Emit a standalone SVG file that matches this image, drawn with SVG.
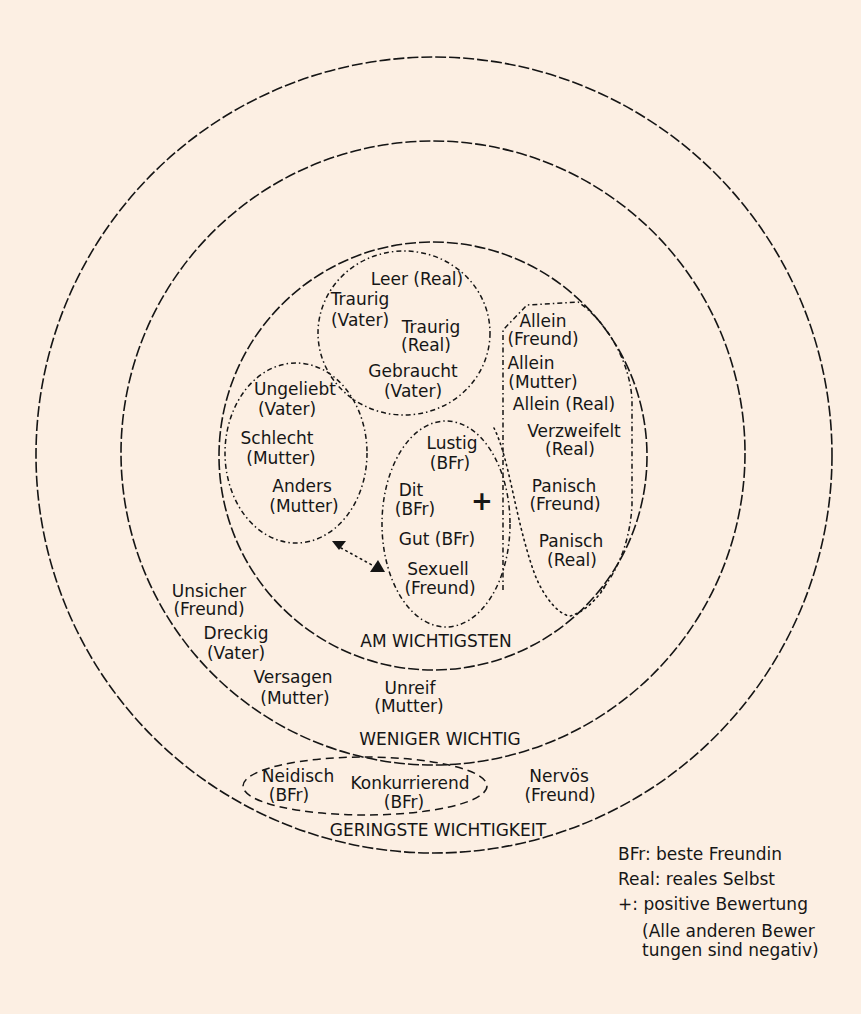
<svg xmlns="http://www.w3.org/2000/svg" width="861" height="1014" viewBox="0 0 861 1014">
<style>
.ring{fill:none;stroke:#151515;stroke-width:1.6;stroke-dasharray:11 3}
.grp{fill:none;stroke:#151515;stroke-width:1.5;stroke-dasharray:5 3 1.5 3}
.dot{fill:none;stroke:#151515;stroke-width:1.6;stroke-dasharray:1.5 4;stroke-linecap:round}
.dash{fill:none;stroke:#151515;stroke-width:1.5;stroke-dasharray:8 5}
text{font-family:"DejaVu Sans",sans-serif;font-size:17px;fill:#161616;text-anchor:middle}
.lg{text-anchor:start}
</style>
<rect width="861" height="1014" fill="#FCEFE3"/>
<g id="rings">
<circle id="outer" class="ring" cx="434" cy="455" r="398"/>
<circle id="middle" class="ring" cx="433" cy="453" r="312"/>
<circle id="inner" class="ring" cx="433" cy="456" r="214"/>
</g>
<g id="connectors">
<path class="dot" d="M341 548 L372 565"/>
<polygon points="332,541 346,541 339,550" fill="#151515"/>
<polygon points="370,572 385,572 378,560" fill="#151515"/>
</g>
<g id="group-top">
<ellipse class="grp" cx="404" cy="333" rx="86" ry="82"/>
<text x="417" y="285">Leer (Real)</text>
<text x="360" y="305">Traurig</text>
<text x="360" y="326">(Vater)</text>
<text x="431" y="333">Traurig</text>
<text x="426" y="351">(Real)</text>
<text x="413" y="377">Gebraucht</text>
<text x="413" y="397">(Vater)</text>
</g>
<g id="group-left">
<ellipse class="grp" cx="296" cy="453" rx="71" ry="90"/>
<text x="295" y="395">Ungeliebt</text>
<text x="287" y="415">(Vater)</text>
<text x="277" y="444">Schlecht</text>
<text x="281" y="464">(Mutter)</text>
<text x="302" y="492">Anders</text>
<text x="304" y="512">(Mutter)</text>
</g>
<g id="group-center">
<ellipse class="grp" cx="446" cy="524" rx="64" ry="103"/>
<text x="452" y="449">Lustig</text>
<text x="450" y="469">(BFr)</text>
<text x="411" y="496">Dit</text>
<text x="415" y="515">(BFr)</text>
<text x="482" y="510" style="font-size:26px;font-weight:bold">+</text>
<text x="437" y="545">Gut (BFr)</text>
<text x="438" y="575">Sexuell</text>
<text x="440" y="594">(Freund)</text>
</g>
<g id="group-right">
<path class="grp" d="M503 590 L503 330 L527 305 L578 302 C605 320 630 360 632 400 L632 505 C630 545 615 575 600 592"/>
<path class="dot" d="M494 428 C510 460 515 520 535 575 C545 600 560 615 570 616 C585 612 598 598 606 585"/>
<text x="543" y="327">Allein</text>
<text x="543" y="345">(Freund)</text>
<text x="531" y="369">Allein</text>
<text x="543" y="388">(Mutter)</text>
<text x="564" y="410">Allein (Real)</text>
<text x="574" y="437">Verzweifelt</text>
<text x="570" y="455">(Real)</text>
<text x="564" y="492">Panisch</text>
<text x="565" y="510">(Freund)</text>
<text x="571" y="547">Panisch</text>
<text x="572" y="566">(Real)</text>
</g>
<g id="label-inner"><text x="436" y="647">AM WICHTIGSTEN</text></g>
<g id="middle-items">
<text x="209" y="597">Unsicher</text>
<text x="209" y="615">(Freund)</text>
<text x="236" y="639">Dreckig</text>
<text x="236" y="659">(Vater)</text>
<text x="293" y="683">Versagen</text>
<text x="295" y="704">(Mutter)</text>
<text x="410" y="694">Unreif</text>
<text x="409" y="712">(Mutter)</text>
</g>
<g id="label-middle"><text x="440" y="745">WENIGER WICHTIG</text></g>
<g id="group-bottom">
<ellipse class="dash" cx="365" cy="786" rx="122" ry="29"/>
<text x="298" y="782">Neidisch</text>
<text x="289" y="801">(BFr)</text>
<text x="410" y="789">Konkurrierend</text>
<text x="404" y="808">(BFr)</text>
</g>
<g id="outer-items">
<text x="559" y="782">Nervös</text>
<text x="560" y="801">(Freund)</text>
</g>
<g id="label-outer"><text x="438" y="836">GERINGSTE WICHTIGKEIT</text></g>
<g id="legend">
<text class="lg" x="618" y="860">BFr: beste Freundin</text>
<text class="lg" x="618" y="885">Real: reales Selbst</text>
<text class="lg" x="618" y="910">+: positive Bewertung</text>
<text class="lg" x="642" y="937">(Alle anderen Bewer</text>
<text class="lg" x="642" y="956">tungen sind negativ)</text>
</g>
</svg>
